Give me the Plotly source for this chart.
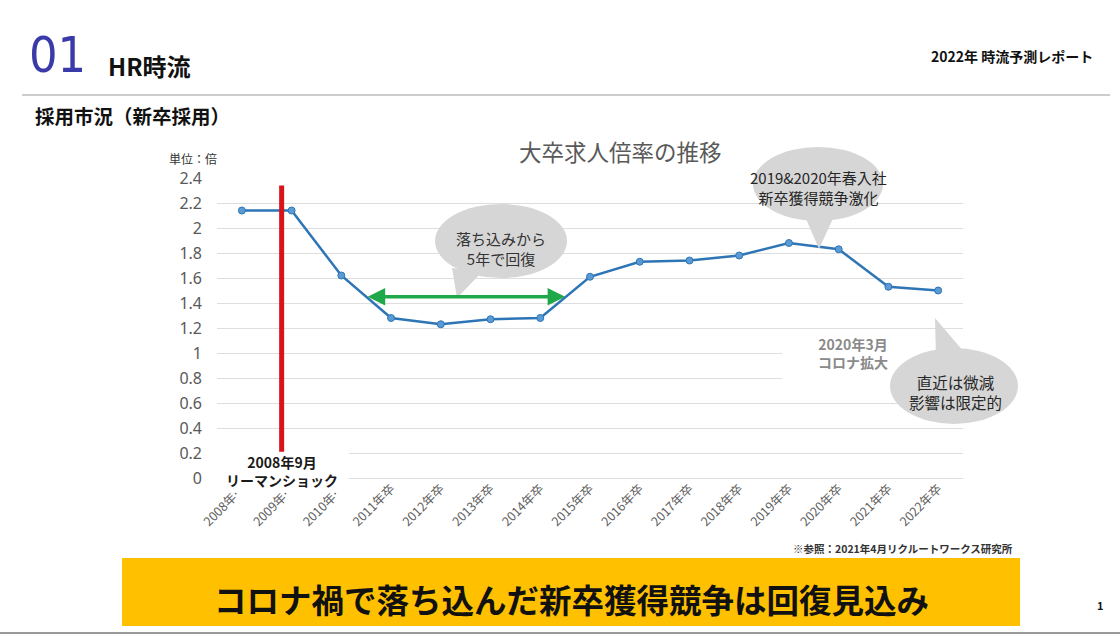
import plotly.graph_objects as go

W, H = 1120, 636

# ---------------- data ----------------
categories = ["2008年…", "2009年…", "2010年…", "2011年卒", "2012年卒", "2013年卒",
              "2014年卒", "2015年卒", "2016年卒", "2017年卒", "2018年卒", "2019年卒",
              "2020年卒", "2021年卒", "2022年卒"]
ratio = [2.14, 2.14, 1.62, 1.28, 1.23, 1.27, 1.28, 1.61, 1.73, 1.74, 1.78, 1.88,
         1.83, 1.53, 1.50]
y_ticks = [0, 0.2, 0.4, 0.6, 0.8, 1, 1.2, 1.4, 1.6, 1.8, 2, 2.2, 2.4]
y_tick_text = ["0", "0.2", "0.4", "0.6", "0.8", "1", "1.2", "1.4", "1.6", "1.8", "2", "2.2", "2.4"]

# event markers (category index / value coordinates)
lehman_x = 0.8
lehman_y = [0.21, 2.34]
recovery_x = [2.5, 6.5]
recovery_y = 1.45

JP = "Noto Sans CJK JP"


def px(x):
    return x / W


def py(y):
    return 1 - y / H


fig = go.Figure()
fig.add_trace(go.Scatter(
    x=categories, y=ratio, mode="lines+markers",
    line=dict(color="#2e75b6", width=2.5),
    marker=dict(size=7, color="#5b9bd5", line=dict(color="#2e75b6", width=1)),
    showlegend=False, hoverinfo="x+y"))

shapes = []
annotations = []

# header rule and footer rule
shapes.append(dict(type="line", xref="paper", yref="paper", x0=px(22), x1=px(1110),
                   y0=py(95), y1=py(95), line=dict(color="#9a9a9a", width=1)))
shapes.append(dict(type="line", xref="paper", yref="paper", x0=0, x1=1,
                   y0=py(633), y1=py(633), line=dict(color="#9a9a9a", width=2)))

# yellow banner
shapes.append(dict(type="rect", xref="paper", yref="paper", x0=px(122), x1=px(1020),
                   y0=py(626), y1=py(558), fillcolor="#ffc000", line=dict(width=0),
                   layer="below"))

# white boxes behind in-chart labels (hide gridlines)
shapes.append(dict(type="rect", xref="paper", yref="paper", x0=px(217), x1=px(349),
                   y0=py(492), y1=py(452), fillcolor="white", line=dict(width=0),
                   layer="above"))
shapes.append(dict(type="rect", xref="paper", yref="paper", x0=px(782), x1=px(966),
                   y0=py(390), y1=py(336), fillcolor="white", line=dict(width=0),
                   layer="above"))

# Lehman shock red line
shapes.append(dict(type="line", xref="x", yref="y", x0=lehman_x, x1=lehman_x,
                   y0=lehman_y[0], y1=lehman_y[1],
                   line=dict(color="#d7141a", width=5), layer="above"))

# speech bubbles
BUB = "#d6d6d6"


def bubble(cx, cy, rx, ry, tail):
    shapes.append(dict(type="path", xref="paper", yref="paper",
                       path="M {} {} L {} {} L {} {} Z".format(
                           px(tail[0][0]), py(tail[0][1]), px(tail[1][0]), py(tail[1][1]),
                           px(tail[2][0]), py(tail[2][1])),
                       fillcolor=BUB, line=dict(width=0), layer="above"))
    shapes.append(dict(type="circle", xref="paper", yref="paper",
                       x0=px(cx - rx), x1=px(cx + rx), y0=py(cy + ry), y1=py(cy - ry),
                       fillcolor=BUB, line=dict(width=0), layer="above"))


bubble(501, 241, 66, 37, [(452, 268), (457, 298), (482, 272)])
bubble(818, 184, 65, 37, [(803, 212), (819, 249), (836, 212)])
bubble(954, 386, 64, 38, [(936, 358), (935, 318), (964, 352)])

# recovery arrow (double headed)
annotations.append(dict(x=recovery_x[1], y=recovery_y, ax=recovery_x[0], ay=recovery_y,
                        xref="x", yref="y", axref="x", ayref="y", text="",
                        showarrow=True, arrowhead=2, arrowsize=1, arrowwidth=3.5,
                        arrowcolor="#1fa84a", arrowside="end+start",
                        standoff=0, startstandoff=0))


def text(x, y, s, size, color="#222", bold=False, family=JP, xanchor="center"):
    annotations.append(dict(x=px(x), y=py(y), xref="paper", yref="paper",
                            text=("<b>" + s + "</b>") if bold else s,
                            showarrow=False, xanchor=xanchor, yanchor="middle",
                            font=dict(family=family, size=size, color=color)))


# header texts
text(27, 55, "01", 50, color="#3a3aa8",
     family="DejaVu Sans Condensed, Roboto Condensed, Liberation Sans Narrow, Roboto",
     xanchor="left")
text(106, 66, "HR時流", 24, color="#111", bold=True, xanchor="left")
text(1095, 56, "2022年 時流予測レポート", 14, color="#111", bold=True, xanchor="right")
text(33, 116, "採用市況（新卒採用）", 19.5, color="#111", bold=True, xanchor="left")

# chart texts
text(620, 151, "大卒求人倍率の推移", 22.5, color="#595959")
text(167, 158, "単位：倍", 12, color="#333", xanchor="left")
text(282, 471, "2008年9月<br>リーマンショック", 14, color="#1a1a1a", bold=True)
text(853, 353, "2020年3月<br>コロナ拡大", 14, color="#8a8a8a", bold=True)
text(501, 248, "落ち込みから<br>5年で回復", 15, color="#333333")
text(818, 187, "2019&amp;2020年春入社<br>新卒獲得競争激化", 15, color="#262626")
text(955, 392, "直近は微減<br>影響は限定的", 15.5, color="#262626")
text(1015, 548, "※参照：2021年4月リクルートワークス研究所", 10.5, color="#333", bold=True,
     xanchor="right")

# banner and page number
text(571, 598, "コロナ禍で落ち込んだ新卒獲得競争は回復見込み", 32.5, color="#111", bold=True)
text(1100, 605, "1", 11, color="#111", bold=True)

fig.update_layout(
    width=W, height=H, margin=dict(l=0, r=0, t=0, b=0, autoexpand=False),
    paper_bgcolor="white", plot_bgcolor="white",
    shapes=shapes, annotations=annotations, showlegend=False,
    xaxis=dict(domain=[px(217), px(963)], type="category", range=[-0.5, 14.5],
               automargin=False,
               showgrid=False, showline=False, zeroline=False, ticks="",
               tickangle=-45, tickfont=dict(family=JP, size=12.5, color="#606060")),
    yaxis=dict(domain=[py(478), py(178)], range=[0, 2.4], tickvals=y_ticks,
               automargin=False,
               ticktext=y_tick_text, showgrid=True, gridcolor="#dedede", gridwidth=1,
               zeroline=True, zerolinecolor="#dedede", zerolinewidth=1,
               showline=False, ticks="", ticklabelstandoff=14,
               tickfont=dict(family="Noto Sans", size=16, color="#595959")),
)

fig.write_html("out.html")
